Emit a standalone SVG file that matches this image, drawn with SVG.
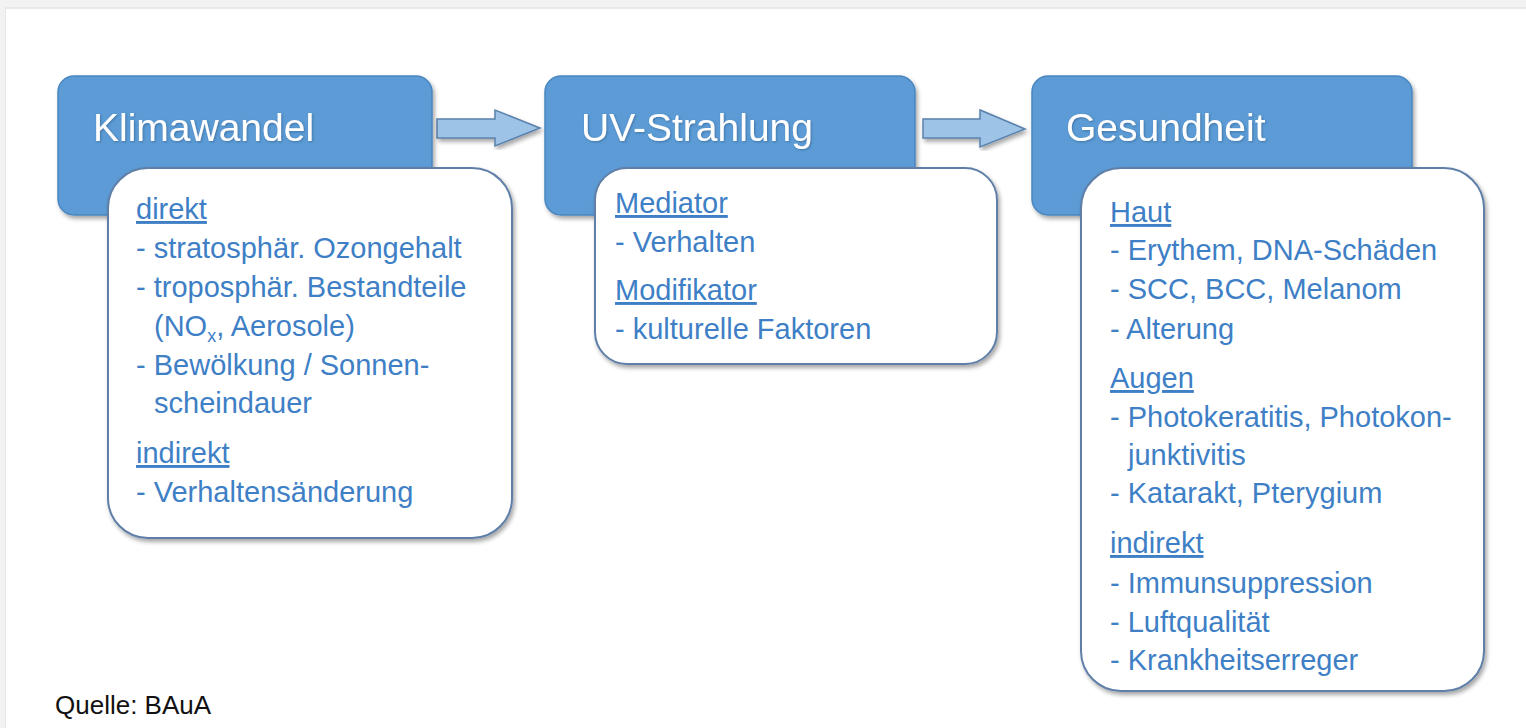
<svg xmlns="http://www.w3.org/2000/svg" width="1526" height="728" viewBox="0 0 1526 728">
<defs>
<filter id="sh" x="-10%" y="-10%" width="120%" height="120%">
<feDropShadow dx="2" dy="3" stdDeviation="2" flood-color="#000" flood-opacity="0.35"/>
</filter>
<filter id="ts" x="-5%" y="-20%" width="110%" height="140%">
<feDropShadow dx="1" dy="1" stdDeviation="0.8" flood-color="#2a5a8a" flood-opacity="0.6"/>
</filter>
<style>
.hdr{fill:#5b9bd5;stroke:#4a86c0;stroke-width:1.5}
.card{fill:#ffffff;stroke:#5f7fa8;stroke-width:2}
.arr{fill:#9dc3e6;stroke:#5a82ad;stroke-width:1.5}
.title{font-family:"Liberation Sans",Arial,sans-serif;font-size:39px;fill:#ffffff}
.body{font-family:"Liberation Sans",Arial,sans-serif;font-size:29px;fill:#3e7fc6}
.u{text-decoration:underline}
.src{font-family:"Liberation Sans",Arial,sans-serif;font-size:26px;fill:#111111}
</style>
</defs>
<rect x="0" y="0" width="1526" height="728" fill="#f2f2f2"/>
<rect x="5" y="7" width="1521" height="721" fill="#e9e9e9"/>
<rect x="6" y="9" width="1520" height="719" fill="#ffffff"/>

<g id="connectors">
<polygon class="arr" filter="url(#sh)" points="437,119 495,119 495,110 540,128 495,146 495,138 437,138"/>
<polygon class="arr" filter="url(#sh)" points="923,119 980,119 980,110 1025,129 980,147 980,138 923,138"/>
</g>

<g id="klimawandel">
<rect class="hdr" filter="url(#sh)" x="58" y="76" width="374" height="139" rx="16"/>
<text class="title" filter="url(#ts)" x="93" y="141">Klimawandel</text>
<rect class="card" filter="url(#sh)" x="108" y="168" width="404" height="370" rx="40"/>
<text class="body u" x="136" y="219">direkt</text>
<text class="body" x="136" y="258">- stratosphär. Ozongehalt</text>
<text class="body" x="136" y="297">- troposphär. Bestandteile</text>
<text class="body" x="154" y="336">(NO<tspan font-size="18" dy="6">x</tspan><tspan dy="-6">, Aerosole)</tspan></text>
<text class="body" x="136" y="375">- Bewölkung / Sonnen-</text>
<text class="body" x="154" y="413">scheindauer</text>
<text class="body u" x="136" y="463">indirekt</text>
<text class="body" x="136" y="502">- Verhaltensänderung</text>
</g>

<g id="uv-strahlung">
<rect class="hdr" filter="url(#sh)" x="545" y="76" width="370" height="139" rx="16"/>
<text class="title" filter="url(#ts)" x="581" y="141">UV-Strahlung</text>
<rect class="card" filter="url(#sh)" x="595" y="168" width="402" height="196" rx="32"/>
<text class="body u" x="615" y="213">Mediator</text>
<text class="body" x="615" y="252">- Verhalten</text>
<text class="body u" x="615" y="300">Modifikator</text>
<text class="body" x="615" y="339">- kulturelle Faktoren</text>
</g>

<g id="gesundheit">
<rect class="hdr" filter="url(#sh)" x="1032" y="76" width="380" height="139" rx="16"/>
<text class="title" filter="url(#ts)" x="1066" y="141">Gesundheit</text>
<rect class="card" filter="url(#sh)" x="1081" y="168" width="403" height="523" rx="40"/>
<text class="body u" x="1110" y="222">Haut</text>
<text class="body" x="1110" y="260">- Erythem, DNA-Schäden</text>
<text class="body" x="1110" y="299">- SCC, BCC, Melanom</text>
<text class="body" x="1110" y="339">- Alterung</text>
<text class="body u" x="1110" y="388">Augen</text>
<text class="body" x="1110" y="427">- Photokeratitis, Photokon-</text>
<text class="body" x="1128" y="465">junktivitis</text>
<text class="body" x="1110" y="503">- Katarakt, Pterygium</text>
<text class="body u" x="1110" y="553">indirekt</text>
<text class="body" x="1110" y="593">- Immunsuppression</text>
<text class="body" x="1110" y="632">- Luftqualität</text>
<text class="body" x="1110" y="670">- Krankheitserreger</text>
</g>

<text class="src" x="55" y="714">Quelle: BAuA</text>
</svg>
